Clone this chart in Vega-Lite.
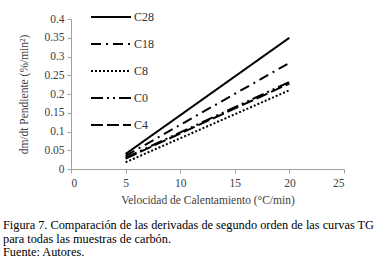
{
  "$schema": "https://vega.github.io/schema/vega-lite/v6.json",
  "autosize": {"type": "none"},
  "width": 273,
  "height": 150,
  "padding": {"left": 71, "top": 19, "right": 48, "bottom": 98},
  "background": "white",
  "config": {
    "font": "Liberation Serif",
    "view": {"stroke": null},
    "axis": {"grid": false, "domainColor": "#a0a0a0", "tickColor": "#a0a0a0", "labelColor": "#404040", "titleColor": "#404040", "labelFont": "Liberation Serif", "titleFont": "Liberation Serif", "labelFontSize": 11.5, "titleFontSize": 11.5, "titleFontWeight": "normal"}
  },
  "title": {
    "text": ["Figura 7. Comparación de las derivadas de segundo orden de las curvas TG", "para todas las muestras de carbón.", "Fuente: Autores."],
    "orient": "bottom",
    "anchor": "start",
    "frame": "group",
    "dx": -68,
    "offset": 13,
    "font": "Liberation Serif",
    "fontSize": 12.3,
    "fontWeight": "normal",
    "color": "black",
    "lineHeight": 13.5
  },
  "data": {
    "values": [
      {"v": 5, "s": 0.040, "c": "C28"},
      {"v": 20, "s": 0.350, "c": "C28"},
      {"v": 5, "s": 0.035, "c": "C18"},
      {"v": 20, "s": 0.283, "c": "C18"},
      {"v": 5, "s": 0.018, "c": "C8"},
      {"v": 20, "s": 0.210, "c": "C8"},
      {"v": 5, "s": 0.030, "c": "C0"},
      {"v": 20, "s": 0.232, "c": "C0"},
      {"v": 5, "s": 0.028, "c": "C4"},
      {"v": 20, "s": 0.228, "c": "C4"}
    ]
  },
  "mark": {"type": "line", "color": "black", "strokeWidth": 2},
  "encoding": {
    "x": {"field": "v", "type": "quantitative", "scale": {"domain": [0, 25], "nice": false}, "axis": {"values": [0, 5, 10, 15, 20, 25], "title": "Velocidad de Calentamiento (°C/min)", "tickSize": 4, "labelPadding": 4, "titlePadding": 6}},
    "y": {"field": "s", "type": "quantitative", "scale": {"domain": [0, 0.4], "nice": false}, "axis": {"values": [0, 0.05, 0.1, 0.15, 0.2, 0.25, 0.3, 0.35, 0.4], "format": "~g", "title": "dm/dt Pendiente (%/min²)", "tickSize": 4, "labelPadding": 3, "titlePadding": 14}},
    "strokeDash": {
      "field": "c", "type": "nominal",
      "scale": {"domain": ["C28", "C18", "C8", "C0", "C4"], "range": [[1, 0], [10, 5, 2, 5], [2, 2], [12, 4, 2, 4, 2, 4], [12, 4]]},
      "legend": {"title": null, "orient": "none", "legendX": 19, "legendY": -23, "symbolType": "stroke", "symbolSize": 1600, "symbolStrokeWidth": 2, "symbolStrokeColor": "black", "labelFont": "Liberation Serif", "labelFontSize": 12, "labelColor": "#303030", "rowPadding": -21, "labelOffset": 2, "symbolOffset": 0}
    }
  }
}
